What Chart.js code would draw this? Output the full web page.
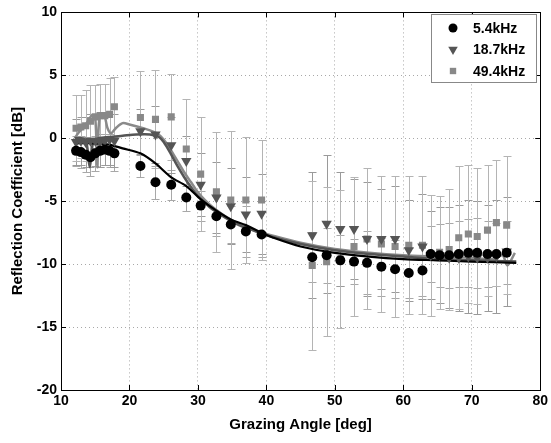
<!DOCTYPE html>
<html>
<head>
<meta charset="utf-8">
<script src="https://cdn.jsdelivr.net/npm/chart.js@4"></script>
<style>
  html, body { margin: 0; padding: 0; background: #fff; }
  #wrap { width: 551px; height: 443px; }
</style>
</head>
<body>
<div id="wrap"><canvas id="chart" width="551" height="443"></canvas></div>
<script>
// measured points (x = grazing angle, y = dB, err = half error bar)
const angles = [12.2, 12.9, 13.6, 14.3, 15.0, 15.7, 16.4, 17.1, 17.8,
  21.6, 23.8, 26.1, 28.3, 30.4, 32.7, 34.8, 37.0, 39.3,
  46.7, 48.8, 50.8, 52.8, 54.7, 56.8, 58.8, 60.8, 62.8,
  64.0, 65.3, 66.7, 68.1, 69.5, 70.8, 72.3, 73.6, 75.1];

const circY = [-1.0, -1.1, -1.3, -1.5, -1.2, -1.0, -0.9, -1.0, -1.2,
  -2.2, -3.5, -3.7, -4.7, -5.35, -6.2, -6.85, -7.4, -7.65,
  -9.45, -9.3, -9.7, -9.8, -9.9, -10.2, -10.4, -10.7, -10.5,
  -9.2, -9.3, -9.3, -9.2, -9.1, -9.1, -9.2, -9.2, -9.1];
const circErr = [1.2, 1.3, 1.4, 1.5, 1.4, 1.3, 1.2, 1.3, 1.4,
  0.9, 1.3, 1.2, 1.1, 1.2, 1.6, 1.5, 2.0, 1.8,
  2.0, 2.2, 2.0, 1.8, 2.5, 2.3, 2.3, 2.0, 2.0,
  2.2, 2.5, 2.6, 2.6, 2.7, 2.8, 2.6, 2.5, 2.5];

const triY = [-0.3, -0.2, -0.3, -0.2, -0.2, -0.3, -0.2, -0.1, -0.2,
  0.55, 0.3, -0.55, -1.8, -3.7, -4.7, -5.4, -6.05, -6.0,
  -7.7, -6.8, -7.2, -7.2, -8.0, -8.0, -8.0, -8.9, -8.6,
  -9.3, -9.3, -9.5, -9.5, -9.4, -9.5, -9.5, -9.4, -9.0];
const triErr = [1.8, 1.9, 2.0, 2.1, 2.0, 2.0, 1.9, 2.0, 2.1,
  1.8, 2.3, 2.2, 2.0, 2.5, 2.8, 3.0, 3.0, 3.2,
  5.0, 5.5, 4.5, 4.0, 4.5, 4.0, 4.2, 4.0, 4.2,
  3.5, 3.8, 4.0, 4.2, 4.5, 4.5, 4.2, 4.5, 4.3];

const sqY = [0.8, 0.9, 1.0, 1.35, 1.7, 1.8, 1.8, 1.9, 2.5,
  1.65, 1.5, 1.7, -0.85, -2.85, -4.25, -4.9, -4.9, -4.9,
  -10.1, -9.8, -9.6, -8.6, -8.0, -8.4, -8.6, -8.5, -8.5,
  -9.3, -9.05, -8.85, -7.9, -7.6, -7.8, -7.3, -6.7, -6.9];
const sqErr = [2.6, 2.5, 2.8, 2.9, 2.5, 2.5, 2.5, 2.9, 2.4,
  3.7, 3.9, 3.4, 4.0, 4.5, 4.75, 5.45, 5.0, 4.75,
  6.7, 5.9, 5.5, 5.5, 5.6, 5.4, 5.6, 5.5, 5.5,
  4.8, 4.5, 4.8, 5.7, 5.5, 5.4, 5.2, 5.0, 5.5];

// model curves
const modelBlackX = [12, 15, 17, 19, 21.6, 23.8, 26.1, 28.3, 30.5, 32.7, 34.8, 37, 39.3, 41, 45, 50, 55, 60, 65, 70, 76.5];
const modelBlackY = [-0.4, -0.4, -0.5, -0.8, -1.2, -2.0, -3.1, -3.8, -4.9, -5.75, -6.45, -6.9, -7.5, -7.9, -8.6, -9.1, -9.4, -9.6, -9.7, -9.8, -9.9];

const modelMidX = [12, 13, 13.7, 14.2, 14.7, 15.5, 17, 19, 21, 23, 24.3, 25, 26, 27, 28, 29, 30, 31, 32, 34, 36, 38, 40, 45, 50, 55, 60, 65, 70, 76.5];
const modelMidY = [0.0, 0.0, -0.3, -2.3, -0.3, 0.0, 0.1, 0.2, 0.3, 0.3, 0.1, -0.3, -1.2, -2.2, -3.1, -3.9, -4.6, -5.1, -5.6, -6.3, -6.9, -7.3, -7.7, -8.4, -8.9, -9.2, -9.4, -9.6, -9.7, -9.8];

const modelHighX = [12, 12.5, 13.5, 14.5, 15, 15.3, 15.6, 16.3, 16.8, 17.3, 18, 19, 20, 22, 24, 25, 26, 27, 28, 29, 30, 31, 32, 34, 36, 38, 40, 45, 50, 55, 60, 65, 70, 73, 74.5, 75.2, 76.3];
const modelHighY = [0.0, 0.4, 1.0, 1.8, 1.6, -2.3, 1.5, 1.8, 0.8, 0.4, 0.8, 1.2, 1.1, 0.8, 0.4, -0.1, -0.9, -1.8, -2.7, -3.5, -4.3, -4.9, -5.4, -6.2, -6.8, -7.3, -7.6, -8.3, -8.8, -9.1, -9.3, -9.4, -9.5, -9.6, -9.3, -10.1, -9.1];

const xTicks = [10, 20, 30, 40, 50, 60, 70, 80];
const yTicks = [10, 5, 0, -5, -10, -15, -20];

const pts = (xs, ys) => xs.map((x, i) => ({ x: x, y: ys[i] }));
const FONT = "'Liberation Sans', Arial, Helvetica, sans-serif";

const errorBars = {
  id: 'errorBars',
  beforeDatasetsDraw(chart) {
    const ctx = chart.ctx, xs = chart.scales.x, ys = chart.scales.y;
    ctx.save();
    ctx.lineWidth = 1;
    chart.data.datasets.forEach(ds => {
      if (!ds.errors) return;
      ctx.strokeStyle = ds.errColor;
      ds.data.forEach((p, i) => {
        const px = Math.round(xs.getPixelForValue(p.x)) + 0.5;
        const top = Math.round(ys.getPixelForValue(p.y + ds.errors[i])) + 0.5;
        const bot = Math.round(ys.getPixelForValue(p.y - ds.errors[i])) + 0.5;
        ctx.beginPath();
        ctx.moveTo(px, top); ctx.lineTo(px, bot);
        ctx.moveTo(px - 4, top); ctx.lineTo(px + 4, top);
        ctx.moveTo(px - 4, bot); ctx.lineTo(px + 4, bot);
        ctx.stroke();
      });
    });
    ctx.restore();
  },
  afterDraw(chart) {
    const ctx = chart.ctx, a = chart.chartArea, xs = chart.scales.x, ys = chart.scales.y;
    ctx.save();
    // frame and inner tick marks
    ctx.strokeStyle = '#000';
    ctx.lineWidth = 1;
    ctx.strokeRect(Math.round(a.left) + 0.5, Math.round(a.top) + 0.5, Math.round(a.right - a.left), Math.round(a.bottom - a.top));
    ctx.beginPath();
    xTicks.forEach(t => {
      const px = Math.round(xs.getPixelForValue(t)) + 0.5;
      ctx.moveTo(px, a.bottom); ctx.lineTo(px, a.bottom - 5);
      ctx.moveTo(px, a.top); ctx.lineTo(px, a.top + 5);
    });
    yTicks.forEach(t => {
      const py = Math.round(ys.getPixelForValue(t)) + 0.5;
      ctx.moveTo(a.left, py); ctx.lineTo(a.left + 5, py);
      ctx.moveTo(a.right, py); ctx.lineTo(a.right - 5, py);
    });
    ctx.stroke();

    // legend box
    const bx = 431.5, by = 14.5, bw = 105, bh = 68;
    ctx.fillStyle = '#fff';
    ctx.fillRect(bx, by, bw, bh);
    ctx.strokeStyle = '#888';
    ctx.strokeRect(bx, by, bw, bh);
    ctx.font = 'bold 14px ' + FONT;
    ctx.textBaseline = 'middle';
    chart.data.datasets.filter(d => d.errors).forEach((ds, i) => {
      const cy = 28 + i * 21.5;
      ctx.fillStyle = ds.backgroundColor;
      Chart.helpers.drawPoint(ctx, {
        pointStyle: ds.pointStyle, radius: ds.pointRadius - 0.5, rotation: ds.rotation || 0,
        borderWidth: 0
      }, 453, cy);
      ctx.fillStyle = '#000';
      ctx.fillText(ds.label, 473, cy + 1);
    });
    ctx.restore();
  }
};

const lineDs = (label, xs, ys, color, w) => ({
  type: 'line', label: label, data: pts(xs, ys), borderColor: color, borderWidth: w,
  pointRadius: 0, fill: false, tension: 0.3, order: 2
});

const config = {
  type: 'scatter',
  data: {
    datasets: [
      { label: '5.4kHz', data: pts(angles, circY), errors: circErr, errColor: '#a8a8a8',
        pointStyle: 'circle', pointRadius: 5, backgroundColor: '#000', borderColor: '#000', borderWidth: 0, order: 1 },
      { label: '18.7kHz', data: pts(angles, triY), errors: triErr, errColor: '#9a9a9a',
        pointStyle: 'triangle', rotation: 180, pointRadius: 6, backgroundColor: '#555', borderColor: '#555', borderWidth: 0, order: 1 },
      { label: '49.4kHz', data: pts(angles, sqY), errors: sqErr, errColor: '#b4b4b4',
        pointStyle: 'rect', pointRadius: 5, backgroundColor: '#888', borderColor: '#888', borderWidth: 0, order: 1 },
      lineDs('model 5.4', modelBlackX, modelBlackY, '#000', 2.2),
      lineDs('model 18.7', modelMidX, modelMidY, '#555', 2.5),
      lineDs('model 49.4', modelHighX, modelHighY, '#8a8a8a', 2.5)
    ]
  },
  options: {
    responsive: false,
    animation: false,
    layout: { padding: { top: 8, right: 8, left: 0, bottom: 0 } },
    plugins: { legend: { display: false }, tooltip: { enabled: false } },
    scales: {
      x: {
        type: 'linear', min: 10, max: 80,
        afterBuildTicks: s => { s.ticks = xTicks.map(v => ({ value: v })); },
        afterFit: s => { s.height = 53; },
        grid: { color: '#a8a8a8', drawTicks: false },
        border: { display: false, dash: [1, 3] },
        ticks: { color: '#000', padding: 3, font: { family: FONT, size: 14, weight: 'bold' } },
        title: { display: true, text: 'Grazing Angle [deg]', color: '#000', padding: { top: 2, bottom: 9 },
          font: { family: FONT, size: 15, weight: 'bold' } }
      },
      y: {
        type: 'linear', min: -20, max: 10,
        afterBuildTicks: s => { s.ticks = yTicks.map(v => ({ value: v })); },
        afterFit: s => { s.width = 61; },
        grid: { color: '#a8a8a8', drawTicks: false },
        border: { display: false, dash: [1, 3] },
        ticks: { color: '#000', padding: 4, font: { family: FONT, size: 14, weight: 'bold' } },
        title: { display: true, text: 'Reflection Coefficient [dB]', color: '#000', padding: { top: 9, bottom: 2 },
          font: { family: FONT, size: 15, weight: 'bold' } }
      }
    }
  },
  plugins: [errorBars]
};

const myChart = new Chart(document.getElementById('chart'), config);
</script>
</body>
</html>
